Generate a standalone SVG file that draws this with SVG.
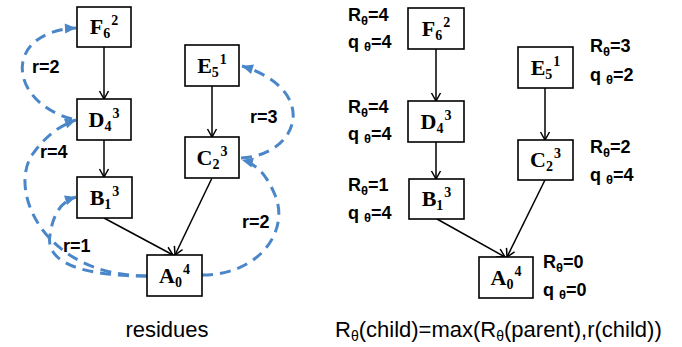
<svg xmlns="http://www.w3.org/2000/svg" width="682" height="347" viewBox="0 0 682 347">
<style>
.box{fill:#fff;stroke:#000;stroke-width:1.6}
.nl{font-family:"Liberation Serif",serif;font-weight:bold;font-size:22px;fill:#000}
.sb{font-size:14px}
.edge{stroke:#000;stroke-width:1.5;fill:none;marker-end:url(#ah)}
.res{stroke:#4a86c8;stroke-width:3;fill:none;stroke-dasharray:11 7;marker-end:url(#bh)}
.lb{font-family:"Liberation Sans",Arial,sans-serif;font-weight:bold;font-size:18px;fill:#000}
.th{font-size:13px}
.cap{font-family:"Liberation Sans",Arial,sans-serif;font-size:22px;fill:#000}
</style>
<defs>
<marker id="ah" viewBox="-10 -6 12 12" refX="0" refY="0" markerWidth="12" markerHeight="12" markerUnits="userSpaceOnUse" orient="auto">
<path d="M-8,-4.5 L0,0 L-8,4.5" fill="none" stroke="#000" stroke-width="1.5"/>
</marker>
<marker id="bh" viewBox="-12 -6 13 12" refX="0" refY="0" markerWidth="13" markerHeight="12" markerUnits="userSpaceOnUse" orient="auto">
<path d="M-11,-5 L0,0 L-11,5 z" fill="#4a86c8"/>
</marker>
</defs>

<g id="connectors">
<line class="edge" x1="104" y1="47" x2="104" y2="99"/>
<line class="edge" x1="212" y1="86" x2="212" y2="137"/>
<line class="edge" x1="104" y1="140" x2="104" y2="177"/>
<line class="edge" x1="104" y1="218" x2="173" y2="255"/>
<line class="edge" x1="212" y1="178" x2="175" y2="255"/>
<line class="edge" x1="436" y1="49" x2="436" y2="101"/>
<line class="edge" x1="545" y1="88" x2="545" y2="140"/>
<line class="edge" x1="436" y1="142" x2="436" y2="179"/>
<line class="edge" x1="437" y1="219" x2="505" y2="257"/>
<line class="edge" x1="545" y1="180" x2="507" y2="257"/>
<path class="res" d="M72,119 C8,102 2,32 76,28"/>
<path class="res" d="M147,276 C45,276 8,192 32,155 C44,138 58,126 76,120"/>
<path class="res" d="M147,276 C80,276 45,262 50,235 C53,215 60,202 76,197"/>
<path class="res" d="M241,158 C300,155 320,90 242,66"/>
<path class="res" d="M202,275 C260,275 290,230 275,195 C268,178 258,164 242,160"/>
</g>

<g id="left-F"><rect class="box" x="77" y="7" width="54" height="40"/><text class="nl" x="104" y="34" text-anchor="middle">F<tspan class="sb" dy="4">6</tspan><tspan class="sb" dx="1" dy="-13">2</tspan></text></g>
<g id="left-E"><rect class="box" x="185" y="45" width="54" height="41"/><text class="nl" x="212" y="73" text-anchor="middle">E<tspan class="sb" dy="4">5</tspan><tspan class="sb" dx="1" dy="-13">1</tspan></text></g>
<g id="left-D"><rect class="box" x="77" y="99" width="54" height="41"/><text class="nl" x="104" y="127" text-anchor="middle">D<tspan class="sb" dy="4">4</tspan><tspan class="sb" dx="1" dy="-13">3</tspan></text></g>
<g id="left-C"><rect class="box" x="185" y="137" width="54" height="41"/><text class="nl" x="212" y="165" text-anchor="middle">C<tspan class="sb" dy="4">2</tspan><tspan class="sb" dx="1" dy="-13">3</tspan></text></g>
<g id="left-B"><rect class="box" x="77" y="177" width="55" height="41"/><text class="nl" x="104.5" y="205" text-anchor="middle">B<tspan class="sb" dy="4">1</tspan><tspan class="sb" dx="1" dy="-13">3</tspan></text></g>
<g id="left-A"><rect class="box" x="147" y="255" width="55" height="41"/><text class="nl" x="174.5" y="283" text-anchor="middle">A<tspan class="sb" dy="4">0</tspan><tspan class="sb" dx="1" dy="-13">4</tspan></text></g>

<g id="res-labels">
<text class="lb" x="32" y="73">r=2</text>
<text class="lb" x="40" y="158">r=4</text>
<text class="lb" x="250" y="123">r=3</text>
<text class="lb" x="242" y="228">r=2</text>
<text class="lb" x="63" y="252">r=1</text>
</g>

<g id="right-F"><rect class="box" x="408" y="8" width="56" height="41"/><text class="nl" x="436" y="36" text-anchor="middle">F<tspan class="sb" dy="4">6</tspan><tspan class="sb" dx="1" dy="-13">2</tspan></text>
<text class="lb" x="348" y="21">R<tspan class="th" dy="4">θ</tspan><tspan dy="-4">=4</tspan></text>
<text class="lb" x="348" y="48">q <tspan class="th" dy="3">θ</tspan><tspan dy="-3">=4</tspan></text></g>
<g id="right-E"><rect class="box" x="518" y="47" width="55" height="41"/><text class="nl" x="545.5" y="75" text-anchor="middle">E<tspan class="sb" dy="4">5</tspan><tspan class="sb" dx="1" dy="-13">1</tspan></text>
<text class="lb" x="590" y="52">R<tspan class="th" dy="4">θ</tspan><tspan dy="-4">=3</tspan></text>
<text class="lb" x="590" y="81">q <tspan class="th" dy="3">θ</tspan><tspan dy="-3">=2</tspan></text></g>
<g id="right-D"><rect class="box" x="408" y="101" width="56" height="41"/><text class="nl" x="436" y="129" text-anchor="middle">D<tspan class="sb" dy="4">4</tspan><tspan class="sb" dx="1" dy="-13">3</tspan></text>
<text class="lb" x="348" y="113">R<tspan class="th" dy="4">θ</tspan><tspan dy="-4">=4</tspan></text>
<text class="lb" x="348" y="140">q <tspan class="th" dy="3">θ</tspan><tspan dy="-3">=4</tspan></text></g>
<g id="right-C"><rect class="box" x="518" y="140" width="55" height="40"/><text class="nl" x="545.5" y="167" text-anchor="middle">C<tspan class="sb" dy="4">2</tspan><tspan class="sb" dx="1" dy="-13">3</tspan></text>
<text class="lb" x="590" y="153">R<tspan class="th" dy="4">θ</tspan><tspan dy="-4">=2</tspan></text>
<text class="lb" x="590" y="181">q <tspan class="th" dy="3">θ</tspan><tspan dy="-3">=4</tspan></text></g>
<g id="right-B"><rect class="box" x="409" y="179" width="55" height="40"/><text class="nl" x="436.5" y="206" text-anchor="middle">B<tspan class="sb" dy="4">1</tspan><tspan class="sb" dx="1" dy="-13">3</tspan></text>
<text class="lb" x="348" y="191">R<tspan class="th" dy="4">θ</tspan><tspan dy="-4">=1</tspan></text>
<text class="lb" x="348" y="219">q <tspan class="th" dy="3">θ</tspan><tspan dy="-3">=4</tspan></text></g>
<g id="right-A"><rect class="box" x="479" y="257" width="54" height="41"/><text class="nl" x="506" y="285" text-anchor="middle">A<tspan class="sb" dy="4">0</tspan><tspan class="sb" dx="1" dy="-13">4</tspan></text>
<text class="lb" x="543" y="268">R<tspan class="th" dy="4">θ</tspan><tspan dy="-4">=0</tspan></text>
<text class="lb" x="543" y="296">q <tspan class="th" dy="3">θ</tspan><tspan dy="-3">=0</tspan></text></g>

<g id="captions">
<text class="cap" x="167" y="337" text-anchor="middle">residues</text>
<text class="cap" x="335" y="337">R<tspan font-size="14" dy="4">θ</tspan><tspan dy="-4">(child)=max(R</tspan><tspan font-size="14" dy="4">θ</tspan><tspan dy="-4">(parent),r(child))</tspan></text>
</g>
</svg>
